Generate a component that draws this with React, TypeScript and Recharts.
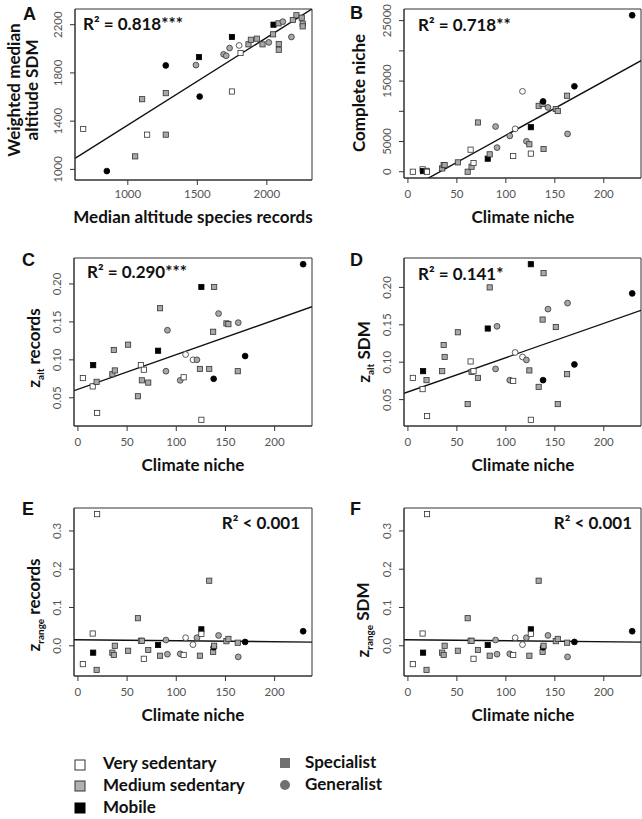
import * as React from "react";
import {
  ScatterChart,
  Scatter,
  XAxis,
  YAxis,
  ReferenceLine,
  ReferenceArea,
} from "recharts";

// panel A: median altitude of records vs weighted median altitude of SDM
const medianAltRecords = [679, 1053, 849, 1103, 1139, 1273, 1273, 1273, 1490, 1517, 1512, 1749, 1749, 1689, 1708, 1732, 1801, 1811, 1868, 1885, 1928, 1969, 2014, 2086, 2086, 2045, 2048, 2084, 2115, 2177, 2187, 2213, 2251, 2258, 2258];
const weightedAltSdm = [1335, 1108, 986, 1582, 1288, 1288, 1632, 1862, 1865, 1604, 1931, 1646, 2098, 1954, 1942, 2006, 2028, 1965, 2037, 2075, 2084, 2037, 2053, 2040, 1992, 2120, 2200, 2211, 2225, 2098, 2239, 2278, 2258, 2208, 2186];
const altMobility = ["vs", "ms", "mob", "ms", "vs", "ms", "ms", "mob", "ms", "mob", "mob", "vs", "mob", "ms", "ms", "ms", "vs", "vs", "ms", "ms", "ms", "ms", "ms", "ms", "ms", "ms", "mob", "ms", "ms", "ms", "ms", "ms", "ms", "ms", "ms"];
const altStrategy = ["sp", "sp", "ge", "sp", "sp", "sp", "sp", "ge", "ge", "ge", "sp", "sp", "sp", "ge", "ge", "ge", "ge", "sp", "sp", "sp", "sp", "sp", "ge", "sp", "sp", "sp", "sp", "sp", "ge", "ge", "sp", "sp", "sp", "sp", "sp"];

// panels B-F: one value per species
const climateNiche = [5, 15, 15.5, 19, 19.5, 35, 36.5, 37.5, 51, 61, 64, 65, 67, 71.5, 81.5, 83.5, 89.5, 91, 104, 107.5, 109.5, 117, 121, 124, 125.5, 125.5, 133.5, 137.5, 138, 138.5, 143, 151, 153, 163, 162.5, 170, 229];
const mobility = ["vs", "vs", "mob", "ms", "vs", "ms", "ms", "ms", "ms", "ms", "vs", "ms", "vs", "ms", "mob", "ms", "ms", "ms", "ms", "vs", "vs", "vs", "ms", "ms", "mob", "vs", "ms", "ms", "mob", "ms", "ms", "ms", "ms", "ms", "ms", "mob", "mob"];
const strategy = ["sp", "sp", "sp", "sp", "sp", "sp", "sp", "sp", "sp", "sp", "sp", "sp", "sp", "sp", "sp", "sp", "ge", "ge", "ge", "sp", "ge", "ge", "ge", "sp", "sp", "sp", "sp", "sp", "ge", "sp", "ge", "sp", "sp", "ge", "sp", "ge", "ge"];
const completeNiche = [0, 400, 100, 150, 0, 550, 1100, 1100, 1550, 0, 3650, 830, 1440, 8150, 2160, 2880, 7480, 3990, 5930, 2600, 7100, 13300, 5040, 4540, 7370, 3000, 10900, 11200, 11640, 3760, 10640, 10370, 10040, 6260, 12580, 14140, 25890];
const zAltRecords = [0.076, 0.065, 0.093, 0.071, 0.03, 0.081, 0.113, 0.086, 0.12, 0.052, 0.093, 0.073, 0.087, 0.07, 0.112, 0.168, 0.085, 0.139, 0.073, 0.077, 0.107, 0.1, 0.1, 0.088, 0.196, 0.021, 0.088, 0.137, 0.075, 0.196, 0.161, 0.148, 0.147, 0.149, 0.085, 0.105, 0.226];
const zAltSdm = [0.079, 0.064, 0.088, 0.076, 0.028, 0.088, 0.123, 0.107, 0.14, 0.044, 0.101, 0.087, 0.088, 0.079, 0.145, 0.2, 0.091, 0.148, 0.076, 0.075, 0.113, 0.107, 0.103, 0.089, 0.231, 0.023, 0.067, 0.157, 0.076, 0.219, 0.171, 0.147, 0.044, 0.179, 0.084, 0.097, 0.192];
const zRangeRecords = [-0.048, 0.032, -0.018, -0.063, 0.344, -0.018, -0.024, 0.0, -0.013, 0.072, 0.013, 0.013, -0.034, -0.011, 0.002, -0.026, 0.015, -0.022, -0.021, -0.024, 0.021, 0.003, 0.021, -0.026, 0.043, 0.031, 0.17, -0.016, -0.004, 0.0, 0.027, 0.012, 0.018, -0.029, 0.008, 0.01, 0.038];
const zRangeSdm = [-0.048, 0.032, -0.018, -0.063, 0.344, -0.018, -0.024, 0.0, -0.013, 0.072, 0.013, 0.013, -0.034, -0.011, 0.002, -0.026, 0.015, -0.022, -0.021, -0.024, 0.021, 0.003, 0.021, -0.026, 0.043, 0.031, 0.17, -0.016, -0.004, 0.0, 0.027, 0.012, 0.018, -0.029, 0.008, 0.01, 0.038];

// regression lines: [intercept, slope]
const fitA = [640, 0.727];
const fitB = [-2926, 89.5];
const fitC = [0.0612, 0.000457];
const fitD = [0.0603, 0.000458];
const fitE = [0.0156, -0.0000253];
const fitF = [0.0156, -0.0000253];

// ticks and labels
const altXTicks = [1000, 1500, 2000];
const altYTicks = [1000, 1400, 1800, 2200];
const altYLabels = ["1000", "1400", "1800", "2200"];
const nicheXTicks = [0, 50, 100, 150, 200];
const completeYTicks = [0, 5000, 10000, 15000, 20000, 25000];
const completeYLabels = ["0", "5000", "", "15000", "", "25000"];
const zAltYTicks = [0.05, 0.1, 0.15, 0.2];
const zAltYLabels = ["0.05", "0.10", "0.15", "0.20"];
const zRangeYTicks = [0, 0.1, 0.2, 0.3];
const zRangeYLabels = ["0.0", "0.1", "0.2", "0.3"];

const fillFor: Record<string, string> = { vs: "#ffffff", ms: "#a8a8a8", mob: "#000000" };
const titleFont = "Lato, 'Open Sans', sans-serif";
const tickFont = "Lato, 'Liberation Sans', sans-serif";

function Mark(props: any) {
  const { cx, cy, payload } = props;
  if (cx == null || cy == null) return null;
  const fill = fillFor[payload.mob];
  const stroke = payload.mob === "mob" ? "#000" : "#333";
  if (payload.str === "ge") {
    return <circle cx={cx} cy={cy} r={2.9} fill={fill} stroke={stroke} strokeWidth={0.8} />;
  }
  return <rect x={cx - 2.6} y={cy - 2.6} width={5.2} height={5.2} fill={fill} stroke={stroke} strokeWidth={0.8} />;
}

function toPoints(xs: number[], ys: number[], mob: string[], str: string[]) {
  return xs.map((x, i) => ({ x, y: ys[i], mob: mob[i], str: str[i] }));
}

interface PanelProps {
  rect: { left: number; top: number; w: number; h: number };
  box: { x0: number; x1: number; y0: number; y1: number };
  xDomain: number[];
  yDomain: number[];
  xTicks: number[];
  yTicks: number[];
  yLabels: string[];
  data: any[];
  fit: number[];
  xLabelDrop?: number;
}

function Panel({ rect, box, xDomain, yDomain, xTicks, yTicks, yLabels, data, fit, xLabelDrop = 13 }: PanelProps) {
  const yW = box.x0 - rect.left;
  const xH = rect.top + rect.h - box.y1;
  const margin = { top: box.y0 - rect.top, right: rect.left + rect.w - box.x1, left: 0, bottom: 0 };
  const seg = [
    { x: xDomain[0], y: fit[0] + fit[1] * xDomain[0] },
    { x: xDomain[1], y: fit[0] + fit[1] * xDomain[1] },
  ];

  const xTick = (p: any) => (
    <text x={p.x} y={p.y + xLabelDrop} textAnchor="middle" fontSize={11.5} fill="#555" fontFamily={tickFont}>
      {p.payload.value}
    </text>
  );
  const yTick = (p: any) => {
    const label = yLabels[yTicks.indexOf(p.payload.value)] ?? "";
    const cx = p.x - 10;
    return (
      <text x={cx} y={p.y} dy={4} transform={`rotate(-90 ${cx} ${p.y})`} textAnchor="middle" fontSize={11.5} fill="#555" fontFamily={tickFont}>
        {label}
      </text>
    );
  };

  return (
    <div style={{ position: "absolute", left: rect.left, top: rect.top }}>
      <ScatterChart width={rect.w} height={rect.h} margin={margin}>
        <XAxis
          type="number"
          dataKey="x"
          domain={xDomain}
          ticks={xTicks}
          interval={0}
          allowDataOverflow
          height={xH}
          tickSize={5}
          stroke="#333"
          tick={xTick}
        />
        <YAxis
          type="number"
          dataKey="y"
          domain={yDomain}
          ticks={yTicks}
          interval={0}
          allowDataOverflow
          width={yW}
          tickSize={5}
          stroke="#333"
          tick={yTick}
        />
        <ReferenceArea
          x1={xDomain[0]}
          x2={xDomain[1]}
          y1={yDomain[0]}
          y2={yDomain[1]}
          fill="none"
          stroke="#333"
          strokeWidth={1}
          ifOverflow="visible"
        />
        <Scatter data={data} shape={Mark} isAnimationActive={false} />
        <ReferenceLine segment={seg} stroke="#111" strokeWidth={1.4} ifOverflow="hidden" />
      </ScatterChart>
    </div>
  );
}

function SubTitle({ bx, cy, sub, rest }: { bx: number; cy: number; sub: string; rest: string }) {
  return (
    <text
      x={bx}
      y={cy}
      transform={`rotate(-90 ${bx} ${cy})`}
      textAnchor="middle"
      fontFamily={titleFont}
      fontWeight={700}
      fontSize={17}
      fill="#111"
    >
      <tspan>z</tspan>
      <tspan dy={4} fontSize={10}>{sub}</tspan>
      <tspan dy={-4}>{" " + rest}</tspan>
    </text>
  );
}

function Labels() {
  const letter = { fontFamily: "'Liberation Sans', Arial, sans-serif", fontWeight: 700, fontSize: 18, fill: "#111" };
  const r2 = { fontFamily: titleFont, fontWeight: 700, fontSize: 17, fill: "#111" };
  const title = { fontFamily: titleFont, fontWeight: 700, fontSize: 17, fill: "#111" };
  const legendText = { fontFamily: titleFont, fontWeight: 700, fontSize: 17, fill: "#111" };
  const rot = (x: number, y: number) => `rotate(-90 ${x} ${y})`;
  return (
    <svg width={642} height={819} style={{ position: "absolute", left: 0, top: 0, pointerEvents: "none" }}>
      <text x={23} y={20} {...letter}>A</text>
      <text x={350} y={19} {...letter}>B</text>
      <text x={22} y={266} {...letter}>C</text>
      <text x={350} y={266} {...letter}>D</text>
      <text x={22} y={515} {...letter}>E</text>
      <text x={350} y={515} {...letter}>F</text>

      <text x={83} y={30} {...r2}>R² = 0.818***</text>
      <text x={418} y={31} {...r2}>R² = 0.718**</text>
      <text x={87} y={278} {...r2}>R² = 0.290***</text>
      <text x={418} y={280} {...r2}>R² = 0.141*</text>
      <text x={300} y={529} textAnchor="end" {...r2}>R² &lt; 0.001</text>
      <text x={632} y={529} textAnchor="end" {...r2}>R² &lt; 0.001</text>

      <text x={20} y={90} transform={rot(20, 90)} textAnchor="middle" {...title}>Weighted median</text>
      <text x={38} y={90} transform={rot(38, 90)} textAnchor="middle" {...title}>altitude SDM</text>
      <text x={365} y={93} transform={rot(365, 93)} textAnchor="middle" {...title}>Complete niche</text>
      <SubTitle bx={40} cy={348} sub="alt" rest="records" />
      <SubTitle bx={370} cy={352} sub="alt" rest="SDM" />
      <SubTitle bx={40} cy={605} sub="range" rest="records" />
      <SubTitle bx={369} cy={620} sub="range" rest="SDM" />

      <text x={193} y={223} textAnchor="middle" {...title}>Median altitude species records</text>
      <text x={523} y={223} textAnchor="middle" {...title}>Climate niche</text>
      <text x={193} y={471} textAnchor="middle" {...title}>Climate niche</text>
      <text x={523} y={471} textAnchor="middle" {...title}>Climate niche</text>
      <text x={193} y={721} textAnchor="middle" {...title}>Climate niche</text>
      <text x={523} y={721} textAnchor="middle" {...title}>Climate niche</text>

      <rect x={75} y={760} width={10} height={10} fill="#fff" stroke="#333" strokeWidth={1} />
      <rect x={75} y={781} width={10} height={10} fill="#b0b0b0" stroke="#333" strokeWidth={1} />
      <rect x={75} y={803} width={10} height={10} fill="#000" stroke="#000" strokeWidth={1} />
      <text x={103} y={769} {...legendText}>Very sedentary</text>
      <text x={103} y={791} {...legendText}>Medium sedentary</text>
      <text x={103} y={813} {...legendText}>Mobile</text>
      <rect x={280} y={758} width={10} height={10} fill="#707070" />
      <circle cx={285} cy={785} r={5} fill="#707070" />
      <text x={305} y={768} {...legendText}>Specialist</text>
      <text x={305} y={790} {...legendText}>Generalist</text>
    </svg>
  );
}

export default function App() {
  const left = { left: 0, w: 320 };
  const right = { left: 320, w: 322 };
  const nicheX = [-4, 238];
  return (
    <div style={{ position: "absolute", left: 0, top: 0, width: 642, height: 819, background: "#fff", overflow: "hidden" }}>
      <Panel
        rect={{ ...left, top: 0, h: 245 }}
        box={{ x0: 75, x1: 312, y0: 9, y1: 180 }}
        xDomain={[620, 2325]}
        yDomain={[912, 2330]}
        xTicks={altXTicks}
        yTicks={altYTicks}
        yLabels={altYLabels}
        data={toPoints(medianAltRecords, weightedAltSdm, altMobility, altStrategy)}
        fit={fitA}
        xLabelDrop={11}
      />
      <Panel
        rect={{ ...right, top: 0, h: 245 }}
        box={{ x0: 404, x1: 641, y0: 9, y1: 178 }}
        xDomain={nicheX}
        yDomain={[-1036, 26926]}
        xTicks={nicheXTicks}
        yTicks={completeYTicks}
        yLabels={completeYLabels}
        data={toPoints(climateNiche, completeNiche, mobility, strategy)}
        fit={fitB}
      />
      <Panel
        rect={{ ...left, top: 248, h: 240 }}
        box={{ x0: 74, x1: 312, y0: 258, y1: 426 }}
        xDomain={nicheX}
        yDomain={[0.0128, 0.2342]}
        xTicks={nicheXTicks}
        yTicks={zAltYTicks}
        yLabels={zAltYLabels}
        data={toPoints(climateNiche, zAltRecords, mobility, strategy)}
        fit={fitC}
      />
      <Panel
        rect={{ ...right, top: 248, h: 240 }}
        box={{ x0: 404, x1: 641, y0: 258, y1: 426 }}
        xDomain={nicheX}
        yDomain={[0.0147, 0.2393]}
        xTicks={nicheXTicks}
        yTicks={zAltYTicks}
        yLabels={zAltYLabels}
        data={toPoints(climateNiche, zAltSdm, mobility, strategy)}
        fit={fitD}
      />
      <Panel
        rect={{ ...left, top: 490, h: 225 }}
        box={{ x0: 74, x1: 312, y0: 508, y1: 676 }}
        xDomain={nicheX}
        yDomain={[-0.079, 0.36]}
        xTicks={nicheXTicks}
        yTicks={zRangeYTicks}
        yLabels={zRangeYLabels}
        data={toPoints(climateNiche, zRangeRecords, mobility, strategy)}
        fit={fitE}
      />
      <Panel
        rect={{ ...right, top: 490, h: 225 }}
        box={{ x0: 404, x1: 641, y0: 508, y1: 676 }}
        xDomain={nicheX}
        yDomain={[-0.079, 0.36]}
        xTicks={nicheXTicks}
        yTicks={zRangeYTicks}
        yLabels={zRangeYLabels}
        data={toPoints(climateNiche, zRangeSdm, mobility, strategy)}
        fit={fitF}
      />
      <Labels />
    </div>
  );
}
